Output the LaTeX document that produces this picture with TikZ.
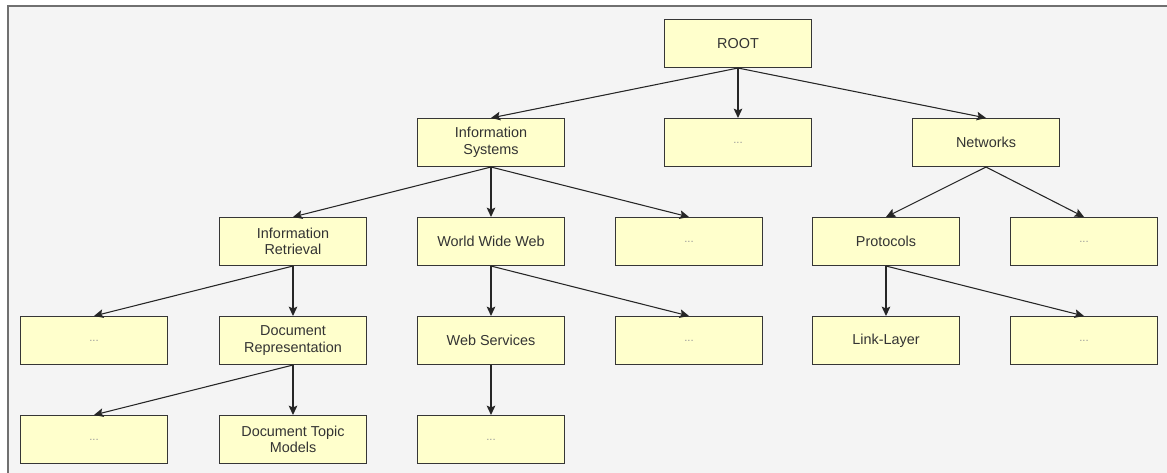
\documentclass[tikz,border=0pt]{standalone}
\usepackage{fontspec}
\setmainfont{Liberation Sans}
\usetikzlibrary{arrows.meta}
\definecolor{boxfill}{HTML}{FFFFCC}
\definecolor{boxline}{HTML}{363636}
\definecolor{canvas}{HTML}{F4F4F4}
\definecolor{framegray}{HTML}{707070}
\tikzset{
  topic/.style = {draw = boxline, fill = boxfill, line width = 0.8pt,
    minimum width = 110pt, minimum height = 36pt, align = center,
    text = black!80, font = \fontsize{10.8}{12.5}\selectfont},
  dots/.style = {topic, text = black!40, font = \fontsize{8.5}{10}\selectfont},
  link/.style = {line width = 0.8pt, black!85,
    -{Stealth[length = 7pt, width = 6.5pt, inset = 1.4pt]}}
}
\begin{document}
\begin{tikzpicture}[x = 0.75pt, y = -0.75pt]
\useasboundingbox (0,0) rectangle (1167,473);
\fill[white] (0,0) rectangle (1167,473);
\fill[canvas] (8,6) rectangle (1167,473);
\draw[framegray, line width = 1.1pt] (8,473) -- (8,6) -- (1167,6);

% level 0 and 1
\node[topic] (root) at (738,43.5) {ROOT};
\node[topic] (infosys) at (491,142.5) {Information\\Systems};
\node[dots] (rootdots) at (738,142.5) {...};
\node[topic] (networks) at (986,142.5) {Networks};

% level 2
\node[topic] (inforet) at (293,241.5) {Information\\Retrieval};
\node[topic] (www) at (491,241.5) {World Wide Web};
\node[dots] (infosysdots) at (689,241.5) {...};
\node[topic] (protocols) at (886,241.5) {Protocols};
\node[dots] (netdots) at (1084,241.5) {...};

% level 3
\node[dots] (retdots) at (94,340.5) {...};
\node[topic] (docrep) at (293,340.5) {Document\\Representation};
\node[topic] (webserv) at (491,340.5) {Web Services};
\node[dots] (wwwdots) at (689,340.5) {...};
\node[topic] (linklayer) at (886,340.5) {Link-Layer};
\node[dots] (protodots) at (1084,340.5) {...};

% level 4
\node[dots] (repdots) at (94,439.5) {...};
\node[topic] (topicmodels) at (293,439.5) {Document Topic\\Models};
\node[dots] (servdots) at (491,439.5) {...};

\foreach \from/\to in {root/infosys, root/rootdots, root/networks,
    infosys/inforet, infosys/www, infosys/infosysdots,
    networks/protocols, networks/netdots,
    inforet/retdots, inforet/docrep,
    www/webserv, www/wwwdots,
    protocols/linklayer, protocols/protodots,
    docrep/repdots, docrep/topicmodels,
    webserv/servdots}
   \draw[link] (\from.south) -- (\to.north);
\end{tikzpicture}
\end{document}
